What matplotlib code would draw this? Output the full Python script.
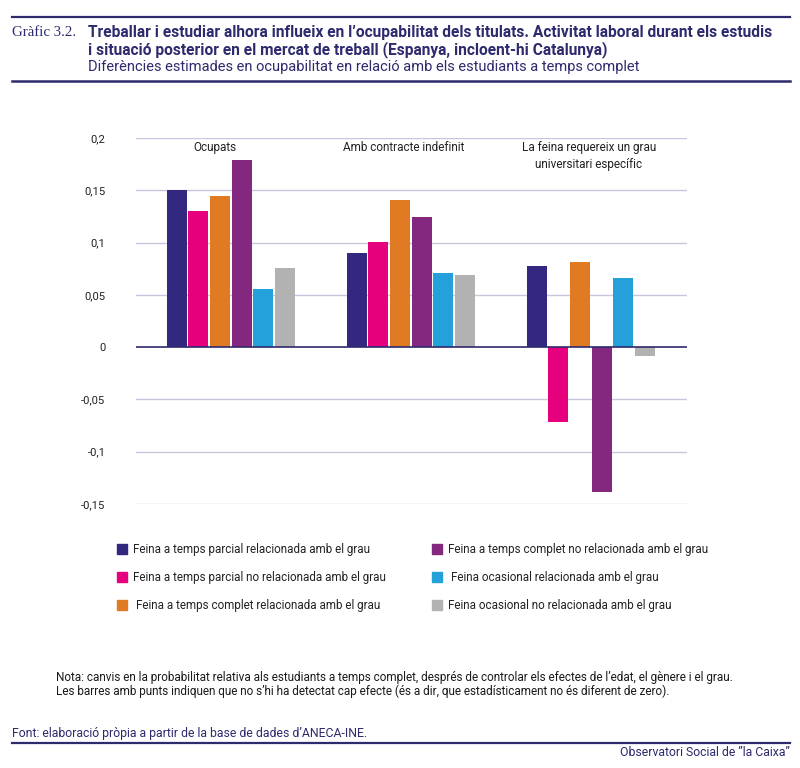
import matplotlib
matplotlib.use("Agg")
import matplotlib.pyplot as plt
from matplotlib.lines import Line2D
from matplotlib.patches import Rectangle
import numpy as np

categories = ["Ocupats", "Amb contracte indefinit", "La feina requereix un grau\nuniversitari específic"]
series_names = [
    "Feina a temps parcial relacionada amb el grau",
    "Feina a temps parcial no relacionada amb el grau",
    "Feina a temps complet relacionada amb el grau",
    "Feina a temps complet no relacionada amb el grau",
    "Feina ocasional relacionada amb el grau",
    "Feina ocasional no relacionada amb el grau",
]
parcial_rel = [0.150, 0.090, 0.078]
parcial_norel = [0.130, 0.101, -0.072]
complet_rel = [0.145, 0.141, 0.081]
complet_norel = [0.179, 0.124, -0.139]
ocasional_rel = [0.056, 0.071, 0.066]
ocasional_norel = [0.076, 0.069, -0.008]
series_values = [parcial_rel, parcial_norel, complet_rel, complet_norel, ocasional_rel, ocasional_norel]
colors = ["#33287F", "#E6007E", "#E07B24", "#84277F", "#24A0DA", "#B2B2B2"]
yticks = [-0.15, -0.1, -0.05, 0, 0.05, 0.1, 0.15, 0.2]
ytick_labels = ["-0,15", "-0,1", "-0,05", "0", "0,05", "0,1", "0,15", "0,2"]

NAVY = "#2D2A6E"
SANS = ["Roboto", "DejaVu Sans"]
SERIF = ["Liberation Serif", "DejaVu Serif"]

fig = plt.figure(figsize=(8, 7.68), dpi=100)
renderer = fig.canvas.get_renderer()
W, H = 800, 768


def fx(x):
    return x / W


def fy(y):
    return 1 - y / H


def fit_size(s, target, family=SANS, weight="normal", base=10.0):
    t = fig.text(0, 0, s, family=family, fontweight=weight, fontsize=base)
    w = t.get_window_extent(renderer).width
    t.remove()
    return base * target / w


# Header
fig.add_artist(Line2D([fx(12), fx(790)], [fy(17), fy(17)], color=NAVY, lw=1.6))
fig.add_artist(Line2D([fx(12), fx(790)], [fy(81), fy(81)], color=NAVY, lw=1.8))
fs_g = fit_size("Gràfic 3.2.", 64, family=SERIF)
fig.text(fx(12), fy(33), "Gràfic 3.2.", family=SERIF, fontsize=fs_g, color=NAVY, va="center", ha="left")
title1 = "Treballar i estudiar alhora influeix en l’ocupabilitat dels titulats. Activitat laboral durant els estudis"
title2 = "i situació posterior en el mercat de treball (Espanya, incloent-hi Catalunya)"
subtitle = "Diferències estimades en ocupabilitat en relació amb els estudiants a temps complet"
fs_t = fit_size(title1, 685, weight="bold")
fs_s = fit_size(subtitle, 553)
fig.text(fx(88), fy(33), title1, family=SANS, fontweight="bold", fontsize=fs_t, color=NAVY, va="center", ha="left")
fig.text(fx(88), fy(50), title2, family=SANS, fontweight="bold", fontsize=fs_t, color=NAVY, va="center", ha="left")
fig.text(fx(88), fy(67), subtitle, family=SANS, fontsize=fs_s, color=NAVY, va="center", ha="left")

# Axes
ax = fig.add_axes([fx(136), fy(504), (687 - 136) / W, (504 - 138) / H])
ax.set_ylim(-0.15, 0.2)
ax.set_xlim(-0.527, 2.534)
for s in ax.spines.values():
    s.set_visible(False)

x = np.arange(len(categories))
pitch = 0.1205
width = 0.111
for i, (vals, c) in enumerate(zip(series_values, colors)):
    ax.bar(x + (i - 2.5) * pitch, vals, width=width, color=c, zorder=3, linewidth=0)

for t in yticks:
    if t == 0:
        ax.axhline(0, color=NAVY, lw=1.2, zorder=4)
    else:
        ax.axhline(t, color="#C9C5DC", lw=1.0, zorder=1)

fs_tick = fit_size("0,15", 21)
ax.set_yticks(yticks)
ax.set_yticklabels(ytick_labels, family=SANS, fontsize=fs_tick, color="#222222")
ax.tick_params(axis="y", length=0, pad=22)
ax.set_xticks([])

fs_cat = fit_size("Amb contracte indefinit", 123)
label_shift = [-0.088, -0.038, -0.012]
for xi, cat, sh in zip(x, categories, label_shift):
    ax.text(xi + sh, 0.197, cat, ha="center", va="top", family=SANS, fontsize=fs_cat,
            color="#222222", linespacing=1.35)

# Legend
legend_pos = [(117, 549), (117, 577), (117, 605), (432, 549), (432, 577), (432, 605)]
text_x = [133, 133, 136, 448, 451, 448]
fs_leg = fit_size(series_names[3], 262)
for (lx, ly), tx, name, c in zip(legend_pos, text_x, series_names, colors):
    fig.add_artist(Rectangle((fx(lx), fy(ly + 5)), 10 / W, 10 / H, color=c, transform=fig.transFigure))
    fig.text(fx(tx), fy(ly), name, family=SANS, fontsize=fs_leg, color="#222222",
             va="center", ha="left")

# Note
note1 = "Nota: canvis en la probabilitat relativa als estudiants a temps complet, després de controlar els efectes de l’edat, el gènere i el grau."
note2 = "Les barres amb punts indiquen que no s’hi ha detectat cap efecte (és a dir, que estadísticament no és diferent de zero)."
fs_note = fit_size(note1, 682)
fig.text(fx(56), fy(677), note1, family=SANS, fontsize=fs_note, color="#1a1a1a", va="center", ha="left")
fig.text(fx(56), fy(691), note2, family=SANS, fontsize=fs_note, color="#1a1a1a", va="center", ha="left")

# Footer
font_txt = "Font: elaboració pròpia a partir de la base de dades d’ANECA-INE."
fs_font = fit_size(font_txt, 355)
fig.text(fx(12), fy(733), font_txt, family=SANS, fontsize=fs_font, color=NAVY, va="center", ha="left")
fig.add_artist(Line2D([fx(12), fx(790)], [fy(743), fy(743)], color=NAVY, lw=1.6))
obs = "Observatori Social de ”la Caixa”"
fs_obs = fit_size(obs, 170)
fig.text(fx(790), fy(752), obs, family=SANS, fontsize=fs_obs, color=NAVY, va="center", ha="right")

fig.savefig("out.png", dpi=100)
